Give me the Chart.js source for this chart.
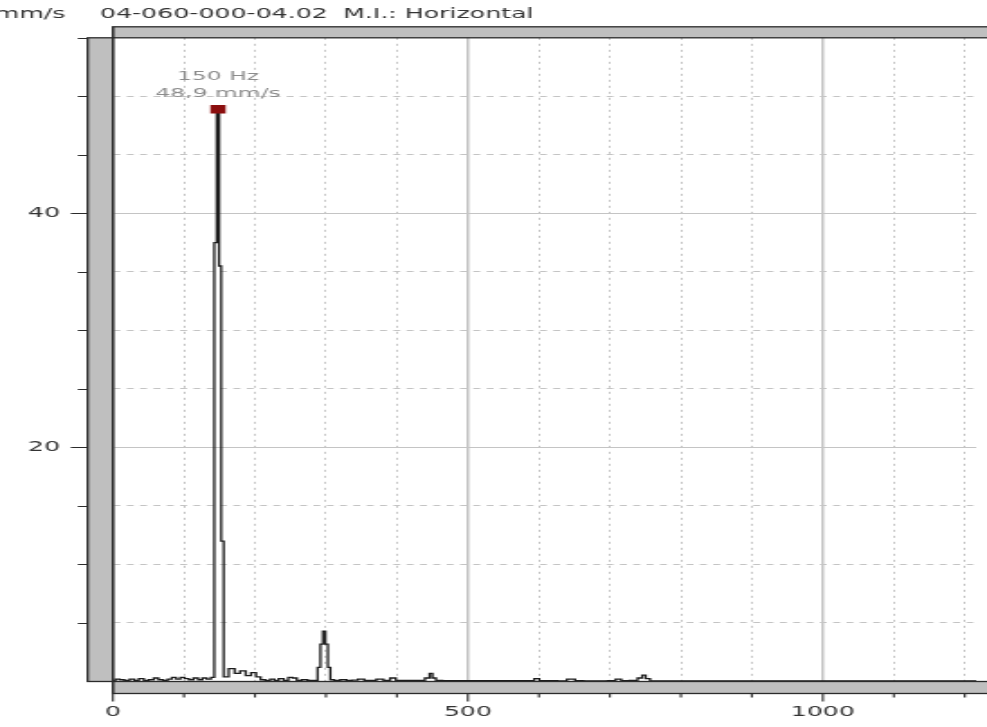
<!DOCTYPE html>
<html>
<head>
<meta charset="utf-8">
<script src="https://cdn.jsdelivr.net/npm/chart.js@4.4.1/dist/chart.umd.min.js"></script>
<style>
html, body { margin: 0; padding: 0; background: #fff; overflow: hidden; }
/* the original screenshot is stretched sideways, so draw narrow and stretch */
#wrap { width: 548px; height: 727px; transform-origin: 0 0; }
#spectrumChart { width: 548px; height: 727px; }
</style>
</head>
<body>
<div id="wrap"><canvas id="spectrumChart" width="548" height="727"></canvas></div>
<script>
const titleParts = ['mm/s', '04-060-000-04.02', 'M.I.: Horizontal'];
const peakText = ['150 Hz', '48,9 mm/s'];

// spectrum, frequency in Hz and velocity in mm/s
const freqHz = [
    0, 7, 12, 20, 27, 33, 40, 47, 54, 61,
    67, 74, 80, 86, 92, 98, 104, 110, 117, 123,
    129, 135, 141, 144.5, 148, 151, 154, 158, 168, 175,
    183, 191, 198, 205, 211, 218, 225, 230, 237, 244,
    250, 256, 262, 270, 278, 286, 290.5, 294, 297.5, 301,
    304.5, 308, 315, 325, 333, 340, 350, 358, 366, 376,
    386, 395, 402, 412, 425, 435, 444, 448, 452, 458,
    470, 490, 510, 530, 550, 570, 590, 597, 604, 620,
    632, 647, 655, 670, 690, 704, 712, 720, 735, 743,
    748, 753, 760, 800, 850, 900, 950, 1000, 1050, 1100,
    1150, 1216
];
const ampMms = [
    0.05, 0.2, 0.15, 0.1, 0.2, 0.1, 0.25, 0.1, 0.15, 0.3,
    0.15, 0.1, 0.2, 0.35, 0.2, 0.35, 0.25, 0.15, 0.3, 0.15,
    0.3, 0.2, 0.35, 37.5, 48.9, 35.5, 12.0, 0.4, 1.1, 0.7,
    0.9, 0.5, 0.75, 0.4, 0.15, 0.1, 0.2, 0.1, 0.25, 0.1,
    0.35, 0.3, 0.1, 0.15, 0.1, 0.1, 1.2, 3.2, 4.3, 3.2,
    1.2, 0.15, 0.1, 0.15, 0.1, 0.12, 0.2, 0.1, 0.1, 0.2,
    0.1, 0.3, 0.1, 0.1, 0.1, 0.1, 0.3, 0.7, 0.3, 0.1,
    0.08, 0.08, 0.08, 0.08, 0.08, 0.08, 0.08, 0.25, 0.08, 0.08,
    0.05, 0.2, 0.08, 0.05, 0.05, 0.08, 0.2, 0.08, 0.1, 0.3,
    0.55, 0.25, 0.05, 0.05, 0.05, 0.05, 0.05, 0.05, 0.05, 0.05,
    0.05, 0.05
];

const xLabels = [0, 500, 1000];
const yLabels = [20, 40];

const peakIndex = ampMms.indexOf(Math.max(...ampMms));
const peakHz = freqHz[peakIndex];
const peakAmp = ampMms[peakIndex];

const ink = '#2b2b2b';
const gridColor = '#c4c4c4';

// stretch the narrow canvas over the whole window
const wrap = document.getElementById('wrap');
wrap.style.transform = 'scale(' + (window.innerWidth / 548) + ',' + (window.innerHeight / 727) + ')';

function drawBox(ctx, x, y, w, h) {
    ctx.fillRect(x, y, w, h);
    ctx.strokeRect(x, y, w, h);
}

const decor = {
    id: 'decor',
    afterDraw(chart) {
        const { ctx, chartArea: a, scales: { x, y } } = chart;
        ctx.save();

        // header line, the unit is clipped by the window edge
        ctx.fillStyle = '#333';
        ctx.font = '14px "DejaVu Sans"';
        ctx.textBaseline = 'middle';
        ctx.fillText(titleParts[0], -3, 14);
        ctx.fillText(titleParts[1], 55.5, 14);
        ctx.fillText(titleParts[2], 190.5, 14);

        // scroll bars round the plot
        ctx.fillStyle = '#bfbfbf';
        ctx.strokeStyle = ink;
        ctx.lineWidth = 1.3;
        drawBox(ctx, a.left, a.top - 11, a.right - a.left + 10, 11);
        drawBox(ctx, a.left, a.bottom, a.right - a.left + 10, 12);
        drawBox(ctx, a.left - 14, a.top, 14, a.bottom - a.top);

        // tick marks outside the bars
        ctx.lineWidth = 1.1;
        ctx.beginPath();
        y.ticks.forEach(t => {
            if (t.value === 0) return;
            const py = Math.round(y.getPixelForValue(t.value)) + 0.5;
            const len = yLabels.includes(t.value) ? 9.4 : 5.5;
            ctx.moveTo(a.left - 14, py);
            ctx.lineTo(a.left - 14 - len, py);
        });
        x.ticks.forEach(t => {
            const px = x.getPixelForValue(t.value);
            const len = t.value % 500 === 0 ? 8 : 4;
            ctx.moveTo(px, a.bottom + 12);
            ctx.lineTo(px, a.bottom + 12 + len);
        });
        ctx.moveTo(a.left, a.top - 11);
        ctx.lineTo(a.left, a.bottom + 12);
        ctx.stroke();

        // peak readout
        const px = x.getPixelForValue(peakHz);
        const py = y.getPixelForValue(peakAmp);
        ctx.fillStyle = '#8c8c8c';
        ctx.font = '13px "DejaVu Sans"';
        ctx.textAlign = 'center';
        ctx.fillText(peakText[0], px, py - 32.5);
        ctx.fillText(peakText[1], px, py - 16);
        ctx.restore();
    }
};

Chart.defaults.font.family = '"DejaVu Sans", Verdana, sans-serif';

const ctx = document.getElementById('spectrumChart').getContext('2d');
const chartInstance = new Chart(ctx, {
    type: 'line',
    data: {
        datasets: [
            {
                label: 'peak',
                data: [{ x: peakHz, y: peakAmp }],
                showLine: false,
                pointStyle: 'rect',
                pointRadius: 6,
                backgroundColor: '#8b0e0e',
                borderWidth: 0,
                order: 0
            },
            {
                label: 'spectrum',
                data: freqHz.map((f, i) => ({ x: f, y: ampMms[i] })),
                borderColor: '#1c1c1c',
                borderWidth: 1.3,
                pointRadius: 0,
                stepped: 'middle',
                fill: false,
                order: 1
            }
        ]
    },
    options: {
        responsive: false,
        devicePixelRatio: 1,
        animation: false,
        events: [],
        layout: { padding: { top: 37.8 } },
        plugins: {
            legend: { display: false },
            tooltip: { enabled: false },
            title: { display: false }
        },
        scales: {
            x: {
                type: 'linear',
                min: 0,
                max: 1216,
                afterFit: scale => {
                    scale.height = 45.5;
                    scale.paddingLeft = 0;
                    scale.paddingRight = 0;
                },
                ticks: {
                    stepSize: 100,
                    includeBounds: false,
                    autoSkip: false,
                    maxRotation: 0,
                    padding: 0,
                    color: '#333',
                    font: { size: 14 },
                    callback: v => xLabels.includes(v) ? String(v) : ''
                },
                grid: {
                    drawTicks: true,
                    tickLength: 22.6,
                    tickColor: 'rgba(0,0,0,0)',
                    color: gridColor,
                    lineWidth: c => (c.tick && c.tick.value % 500 === 0) ? 1.5 : 1
                },
                border: {
                    display: false,
                    dash: c => (c.tick && c.tick.value % 500 !== 0) ? [2, 4] : []
                }
            },
            y: {
                min: 0,
                max: 55,
                afterFit: scale => {
                    scale.width = 62.7;
                    scale.paddingTop = 0;
                    scale.paddingBottom = 0;
                },
                ticks: {
                    stepSize: 5,
                    padding: 0,
                    color: '#333',
                    font: { size: 14 },
                    callback: v => yLabels.includes(v) ? String(v) : ''
                },
                grid: {
                    drawTicks: true,
                    tickLength: 29.4,
                    tickColor: 'rgba(0,0,0,0)',
                    color: gridColor,
                    lineWidth: 1
                },
                border: {
                    display: false,
                    dash: c => (c.tick && !yLabels.includes(c.tick.value)) ? [3.8, 3.6] : []
                }
            }
        }
    },
    plugins: [decor]
});
</script>
</body>
</html>
